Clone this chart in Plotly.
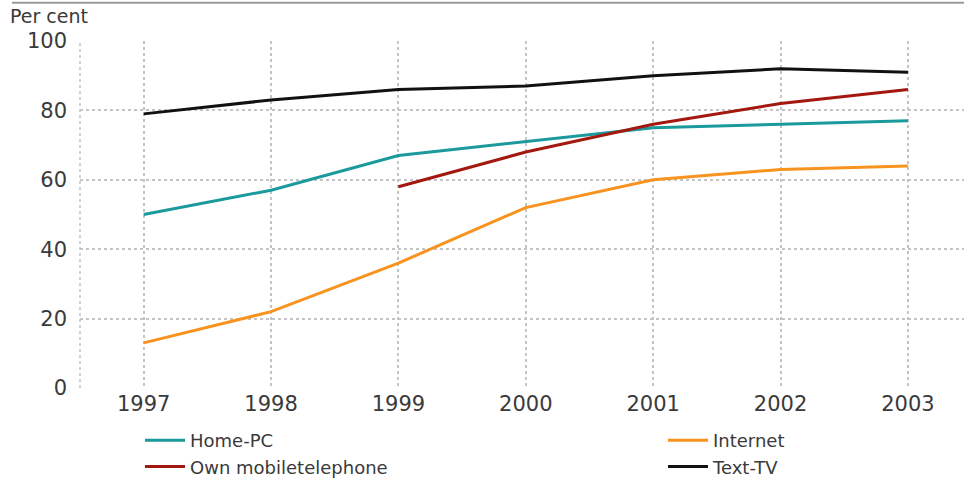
import plotly.graph_objects as go

years = [1997, 1998, 1999, 2000, 2001, 2002, 2003]
home_pc = [50, 57, 67, 71, 75, 76, 77]
internet = [13, 22, 36, 52, 60, 63, 64]
mobile = [None, None, 58, 68, 76, 82, 86]
text_tv = [79, 83, 86, 87, 90, 92, 91]
y_ticks = [0, 20, 40, 60, 80, 100]

FONT = "DejaVu Sans"
TXT = "#3a3a3a"

fig = go.Figure()
fig.add_trace(go.Scatter(x=years, y=home_pc, name="Home-PC", mode="lines",
                         line=dict(color="#1a9a9c", width=3), legend="legend"))
fig.add_trace(go.Scatter(x=years, y=mobile, name="Own mobiletelephone", mode="lines",
                         line=dict(color="#a3180f", width=3), legend="legend"))
fig.add_trace(go.Scatter(x=years, y=internet, name="Internet", mode="lines",
                         line=dict(color="#f7931e", width=3), legend="legend2"))
fig.add_trace(go.Scatter(x=years, y=text_tv, name="Text-TV", mode="lines",
                         line=dict(color="#111111", width=3), legend="legend2"))

grid = dict(showgrid=True, gridcolor="#c4c4c4", griddash="dot", gridwidth=1.5)

fig.update_layout(
    width=964, height=481,
    margin=dict(l=80, r=0, t=41, b=93, autoexpand=False),
    paper_bgcolor="white", plot_bgcolor="white",
    font=dict(family=FONT, color=TXT),
    xaxis=dict(range=[1996.5, 2003.44], tickvals=years, ticktext=[str(y) for y in years],
               tickfont=dict(size=21, color=TXT), zeroline=False, showline=False,
               ticks="", ticklabelstandoff=1, **grid),
    yaxis=dict(range=[0, 100], tickvals=y_ticks, tickfont=dict(size=21, color=TXT),
               zeroline=False, showline=False, ticks="", ticklabelstandoff=12, **grid),
    legend=dict(x=0.0679, y=-0.098, xanchor="left", yanchor="top", orientation="v",
                font=dict(size=18, color=TXT), itemwidth=40, bgcolor="rgba(0,0,0,0)",
                tracegroupgap=0),
    legend2=dict(x=0.6595, y=-0.098, xanchor="left", yanchor="top", orientation="v",
                 font=dict(size=18, color=TXT), itemwidth=40, bgcolor="rgba(0,0,0,0)",
                 tracegroupgap=0),
    showlegend=True,
)

# left border gridline at plot edge
fig.add_shape(type="line", xref="paper", yref="paper", x0=0, x1=0, y0=0, y1=1,
              line=dict(color="#c4c4c4", width=1.5, dash="dot"))
# top rule
fig.add_shape(type="line", xref="paper", yref="paper", x0=-0.077, x1=1.0, y0=1.11, y1=1.11,
              line=dict(color="#9a9a9a", width=2))

fig.add_annotation(text="Per cent", xref="paper", yref="paper", x=-0.081, y=1.035,
                   xanchor="left", yanchor="bottom", showarrow=False,
                   font=dict(size=19, color=TXT, family=FONT))

fig.write_html("out.html")
